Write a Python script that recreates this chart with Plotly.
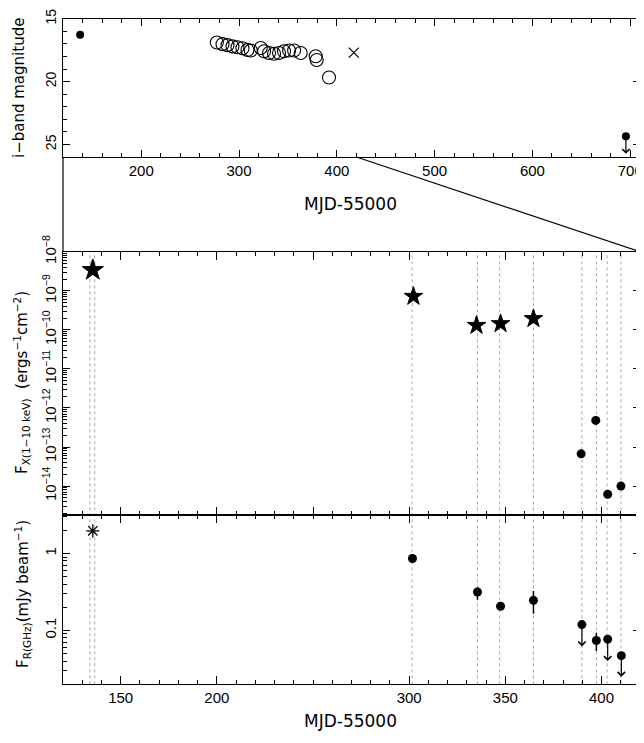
import numpy as np
import plotly.graph_objects as go

# ---------------- data ----------------
# top panel: i-band magnitudes
opt_det_mjd = [137.5]
opt_det_mag = [16.27]
opt_circ_mjd = [277.3, 283.1, 288.2, 293.3, 298.4, 303.5, 308.6, 312.0, 322.2, 325.6,
                330.7, 335.8, 340.9, 346.0, 351.2, 356.3, 363.1, 378.4, 379.4, 392.0]
opt_circ_mag = [16.89, 17.02, 17.10, 17.20, 17.27, 17.35, 17.48, 17.53, 17.33, 17.58,
                17.73, 17.78, 17.73, 17.58, 17.53, 17.53, 17.73, 17.98, 18.28, 19.67]
opt_cross_mjd = [417.4]
opt_cross_mag = [17.70]
opt_ul_mjd = [695.6]
opt_ul_mag = [24.35]
opt_ul_tip = [25.75]

# middle panel: X-ray flux
xr_star_mjd = [135.5, 302.2, 335.0, 347.5, 364.6]
xr_star_flux = [3.4e-9, 7.2e-10, 1.3e-10, 1.44e-10, 1.94e-10]
xr_dot_mjd = [389.4, 397.0, 403.2, 410.1]
xr_dot_flux = [6.7e-14, 4.8e-13, 6.2e-15, 1.0e-14]

# bottom panel: radio flux
rad_ast_mjd = [135.5]
rad_ast_flux = [1.97]
rad_det_mjd = [301.7, 335.5, 347.5, 364.6, 397.3]
rad_det_flux = [0.86, 0.316, 0.206, 0.246, 0.074]
rad_det_hi = [0.86, 0.36, 0.215, 0.325, 0.093]
rad_det_lo = [0.86, 0.25, 0.198, 0.165, 0.054]
rad_ul_mjd = [389.8, 403.2, 410.3]
rad_ul_flux = [0.119, 0.077, 0.047]
rad_ul_tip = [0.062, 0.040, 0.025]

# epochs (dotted vertical lines)
epochs = [134.0, 136.5, 301.5, 335.5, 347.0, 364.6, 389.8, 397.4, 402.9, 410.1]

# axis settings
top_xrange = [120, 710]
top_yrange = [26, 14.98]
zoom_xrange = [120, 420]
mid_logrange = [-14.74, -7.998]
bot_logrange = [-1.7, 0.5]
x_bot_ticks = [150, 200, 300, 350, 400]
top_ytickvals = [15, 20, 25]
mid_tickvals = [1e-8, 1e-9, 1e-10, 1e-11, 1e-12, 1e-13, 1e-14]
mid_ticktext = ["10<sup>−8</sup>", "10<sup>−9</sup>", "10<sup>−10</sup>", "10<sup>−11</sup>",
                "10<sup>−12</sup>", "10<sup>−13</sup>", "10<sup>−14</sup>"]
bot_tickvals = [1, 0.1]
bot_ticktext = ["1", "0.1"]

# ---------------- layout geometry ----------------
OFF = 8                      # page body margin
W, H = 644 - OFF, 743 - OFF  # figure size so it fits in the window
XL, XR = 63, 640

def px(p):
    return (p - OFF) / W

def py(p):
    return 1 - (p - OFF) / H

top_dom = [py(157), py(18.5)]
mid_dom = [py(515), py(251.7)]
bot_dom = [py(684.3), py(515)]
xdom = [px(XL), px(XR)]

TICKFONT = "Liberation Sans"
TITLEFONT = "DejaVu Sans"
fig = go.Figure()

# top panel
fig.add_trace(go.Scatter(x=opt_det_mjd + opt_ul_mjd, y=opt_det_mag + opt_ul_mag, mode="markers",
                         marker=dict(symbol="circle", size=8, color="black",
                                     line=dict(width=0)),
                         xaxis="x", yaxis="y", showlegend=False))
fig.add_trace(go.Scatter(x=opt_circ_mjd, y=opt_circ_mag, mode="markers",
                         marker=dict(symbol="circle-open", size=13, color="black",
                                     line=dict(width=1.1, color="black")),
                         xaxis="x", yaxis="y", showlegend=False))
fig.add_trace(go.Scatter(x=opt_cross_mjd, y=opt_cross_mag, mode="markers",
                         marker=dict(symbol="x-thin-open", size=10, color="black",
                                     line=dict(width=1.2, color="black")),
                         xaxis="x", yaxis="y", showlegend=False))

# middle panel
fig.add_trace(go.Scatter(x=xr_star_mjd, y=xr_star_flux, mode="markers",
                         marker=dict(symbol="star", size=[16, 14, 14, 14, 14], color="#000000",
                                     opacity=1, line=dict(width=1, color="#000000")),
                         xaxis="x2", yaxis="y2", showlegend=False))
fig.add_trace(go.Scatter(x=xr_dot_mjd, y=xr_dot_flux, mode="markers",
                         marker=dict(symbol="circle", size=9, color="black",
                                     line=dict(width=0)),
                         xaxis="x2", yaxis="y2", showlegend=False))

# bottom panel
fig.add_trace(go.Scatter(x=rad_ast_mjd, y=rad_ast_flux, mode="markers",
                         marker=dict(symbol="asterisk-open", size=11, color="black",
                                     line=dict(width=1.3, color="black")),
                         xaxis="x3", yaxis="y3", showlegend=False))
fig.add_trace(go.Scatter(x=rad_det_mjd, y=rad_det_flux, mode="markers",
                         marker=dict(symbol="circle", size=9, color="black",
                                     line=dict(width=0)),
                         error_y=dict(type="data", symmetric=False,
                                      array=[h - v for h, v in zip(rad_det_hi, rad_det_flux)],
                                      arrayminus=[v - l for l, v in zip(rad_det_lo, rad_det_flux)],
                                      color="black", thickness=1.5, width=0),
                         xaxis="x3", yaxis="y3", showlegend=False))
fig.add_trace(go.Scatter(x=rad_ul_mjd, y=rad_ul_flux, mode="markers",
                         marker=dict(symbol="circle", size=9, color="black",
                                     line=dict(width=0)),
                         xaxis="x3", yaxis="y3", showlegend=False))

annotations = []
# upper-limit arrows
for xm, yv, yt in zip(opt_ul_mjd, opt_ul_mag, opt_ul_tip):
    annotations.append(dict(x=xm, y=yt, ax=xm, ay=yv, xref="x", yref="y", axref="x", ayref="y",
                            text="", showarrow=True, arrowhead=4, arrowsize=1.2,
                            arrowwidth=1.2, arrowcolor="black"))
for xm, yv, yt in zip(rad_ul_mjd, rad_ul_flux, rad_ul_tip):
    annotations.append(dict(x=xm, y=np.log10(yt), ax=xm, ay=np.log10(yv), xref="x3", yref="y3",
                            axref="x3", ayref="y3", text="", showarrow=True, arrowhead=4,
                            arrowsize=1.2, arrowwidth=1.2, arrowcolor="black"))

# axis titles as annotations
def title(text, x, y, size, angle=0):
    return dict(text=text, x=px(x), y=py(y), xref="paper", yref="paper", showarrow=False,
                textangle=angle, xanchor="center", yanchor="middle",
                font=dict(family=TITLEFONT, size=size, color="black"))

annotations += [
    title("i−band magnitude", 19, 88, 15, -90),
    title("MJD-55000", 350, 204, 17),
    title("F<sub>X(1−10 keV)</sub>  (ergs<sup>−1</sup>cm<sup>−2</sup>)", 21, 383, 15, -90),
    title("F<sub>R(GHz)</sub>(mJy beam<sup>−1</sup>)", 22, 594, 15, -90),
    title("MJD-55000", 350, 721, 17),
]

shapes = []
for e in epochs:
    shapes.append(dict(type="line", xref="x2", yref="paper", x0=e, x1=e,
                       y0=bot_dom[0], y1=mid_dom[1], layer="below",
                       line=dict(color="#a8a8a8", width=1, dash="dot")))

# zoom connector lines
def top_xpaper(v):
    return xdom[0] + (v - top_xrange[0]) / (top_xrange[1] - top_xrange[0]) * (xdom[1] - xdom[0])

shapes.append(dict(type="line", xref="paper", yref="paper", x0=top_xpaper(zoom_xrange[0]),
                   x1=xdom[0], y0=top_dom[0], y1=mid_dom[1], line=dict(color="black", width=1.2)))
shapes.append(dict(type="line", xref="paper", yref="paper", x0=top_xpaper(zoom_xrange[1]),
                   x1=xdom[1], y0=top_dom[0], y1=mid_dom[1], line=dict(color="black", width=1.2)))

axis_common = dict(showline=True, linecolor="black", linewidth=1.3, mirror="ticks",
                   ticks="inside", tickcolor="black", tickwidth=1.2, showgrid=False,
                   zeroline=False, automargin=False, ticklabeloverflow="allow",
                   tickfont=dict(family=TICKFONT, size=15, color="black"))
top_y_common = dict(axis_common, tickfont=dict(family=TICKFONT, size=14, color="black"))

minor_mid = [m * 10.0 ** d for d in range(-15, -7) for m in range(2, 10)]
minor_bot = [m * 10.0 ** d for d in range(-2, 1) for m in range(2, 10)]

fig.update_layout(
    template="none",
    width=W, height=H, margin=dict(l=0, r=0, t=0, b=0, pad=0, autoexpand=False),
    paper_bgcolor="white", plot_bgcolor="white", showlegend=False,
    xaxis=dict(domain=xdom, anchor="y", range=top_xrange, dtick=100, tick0=0, ticklen=7,
               minor=dict(dtick=20, tick0=0, ticklen=4, ticks="inside", tickcolor="black"),
               **axis_common),
    yaxis=dict(domain=top_dom, anchor="x", range=top_yrange, tickvals=top_ytickvals, ticklen=7,
               tickangle=-90, minor=dict(dtick=1, tick0=0, ticklen=4, ticks="inside",
                                         tickcolor="black"), **top_y_common),
    xaxis2=dict(domain=xdom, anchor="y2", range=zoom_xrange, dtick=50, tick0=0, ticklen=8,
                showticklabels=False, matches="x3",
                minor=dict(dtick=10, tick0=0, ticklen=4, ticks="inside", tickcolor="black"),
                **axis_common),
    yaxis2=dict(domain=mid_dom, anchor="x2", type="log", range=mid_logrange,
                tickvals=mid_tickvals, ticktext=mid_ticktext, ticklen=7, tickangle=-90,
                minor=dict(tickvals=minor_mid, ticklen=4, ticks="inside", tickcolor="black"),
                **axis_common),
    xaxis3=dict(domain=xdom, anchor="y3", range=zoom_xrange, tickvals=x_bot_ticks, ticklen=8,
                minor=dict(dtick=10, tick0=0, ticklen=4, ticks="inside", tickcolor="black"),
                **axis_common),
    yaxis3=dict(domain=bot_dom, anchor="x3", type="log", range=bot_logrange,
                tickvals=bot_tickvals, ticktext=bot_ticktext, ticklen=7, tickangle=-90,
                minor=dict(tickvals=minor_bot, ticklen=4, ticks="inside", tickcolor="black"),
                **axis_common),
    annotations=annotations, shapes=shapes,
)

fig.write_html("out.html")
